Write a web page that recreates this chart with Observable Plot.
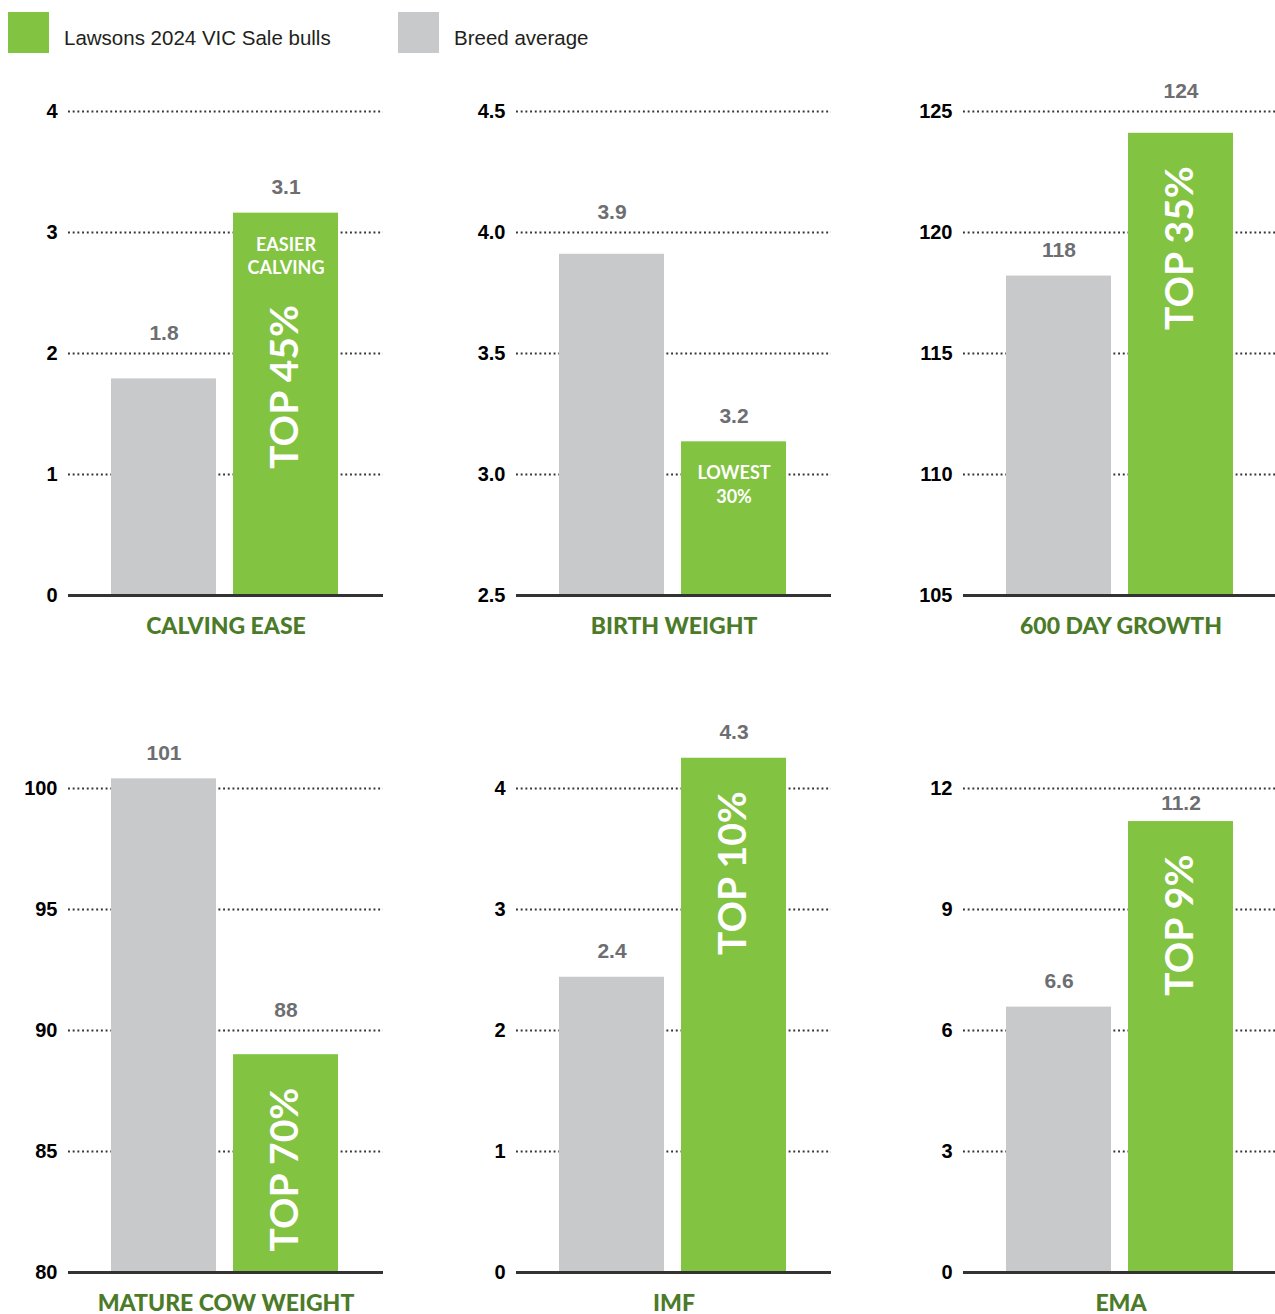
<!DOCTYPE html>
<html>
<head>
<meta charset="utf-8">
<script src="https://cdn.jsdelivr.net/npm/d3@7"></script>
<script src="https://cdn.jsdelivr.net/npm/@observablehq/plot@0.6"></script>
<style>
  html, body { margin: 0; padding: 0; background: #fff; }
  body { width: 1275px; height: 1314px; overflow: hidden; position: relative; }
  .legend-item { position: absolute; top: 12px; display: flex; align-items: center;
    font-family: "Liberation Sans", Arial, sans-serif; font-size: 20.5px; color: #231f20; white-space: nowrap; }
  .legend-item span { position: relative; top: 5px; }
  .swatch { width: 41px; height: 41px; margin-right: 15px; }
  .panel { position: absolute; width: 400px; }
  .panel svg { overflow: visible; max-width: none !important; }
</style>
</head>
<body>
<div id="legend"></div>
<div id="charts"></div>
<script>
// ---- data ----
const traits = ["CALVING EASE", "BIRTH WEIGHT", "600 DAY GROWTH", "MATURE COW WEIGHT", "IMF", "EMA"];
const seriesNames = ["Breed average", "Lawsons 2024 VIC Sale bulls"];
const breedAverage = [1.79, 3.91, 118.2, 100.4, 2.44, 6.58];
const lawsons = [3.16, 3.135, 124.1, 89.0, 4.25, 11.18];
const breedLabels = ["1.8", "3.9", "118", "101", "2.4", "6.6"];
const lawsonsLabels = ["3.1", "3.2", "124", "88", "4.3", "11.2"];
const yDomains = [[0, 4], [2.5, 4.5], [105, 125], [80, 100], [0, 4], [0, 12]];
const yTicks = [[0, 1, 2, 3, 4], [2.5, 3, 3.5, 4, 4.5], [105, 110, 115, 120, 125], [80, 85, 90, 95, 100], [0, 1, 2, 3, 4], [0, 3, 6, 9, 12]];
const yTickLabels = [["0", "1", "2", "3", "4"], ["2.5", "3.0", "3.5", "4.0", "4.5"], ["105", "110", "115", "120", "125"], ["80", "85", "90", "95", "100"], ["0", "1", "2", "3", "4"], ["0", "3", "6", "9", "12"]];
const rotatedNotes = ["TOP 45%", "", "TOP 35%", "TOP 70%", "TOP 10%", "TOP 9%"];
const flatNotes = ["EASIER\nCALVING", "LOWEST\n30%", "", "", "", ""];

// ---- style ----
const GREEN = "#82c341";
const GREY = "#c8c9cb";
const LABEL_GREY = "#6d6e71";
const TITLE_GREEN = "#4b7b29";
const SANS = "'Liberation Sans', Arial, Helvetica, sans-serif";
const colLeft = [0, 448, 895];
const rowTop = [60, 737];
const M = {top: 51, bottom: 50, left: 68, right: 0};
const H = 585;
const innerH = H - M.top - M.bottom;

// legend
const legend = d3.select("#legend");
[[seriesNames[1], GREEN, 8], [seriesNames[0], GREY, 398]].forEach(([name, color, left]) => {
  const item = legend.append("div").attr("class", "legend-item").style("left", left + "px");
  item.append("div").attr("class", "swatch").style("background", color);
  item.append("span").text(name);
});

// value label placement: 26px above bar, moved clear of a dotted gridline it would sit on
function labelY(value, domain, ticks) {
  const ppu = innerH / (domain[1] - domain[0]);
  let v = value + 26 / ppu;
  for (const t of ticks.slice(1)) {
    const diff = (v - t) * ppu;
    if (Math.abs(diff) < 9) v = diff >= 0 ? t + 20 / ppu : t - 15 / ppu;
  }
  return v;
}

const charts = d3.select("#charts");
traits.forEach((trait, i) => {
  const rows = [
    {series: seriesNames[0], value: breedAverage[i], label: breedLabels[i], rot: "", flat: ""},
    {series: seriesNames[1], value: lawsons[i], label: lawsonsLabels[i], rot: rotatedNotes[i], flat: flatNotes[i]}
  ];
  rows.forEach(r => r.ly = labelY(r.value, yDomains[i], yTicks[i]));
  const [y0] = yDomains[i];
  const tickLabel = new Map(yTicks[i].map((t, k) => [t, yTickLabels[i][k]]));
  const rotOffset = flatNotes[i] ? 92 : 33;

  const plot = Plot.plot({
    width: 383,
    height: H,
    marginTop: M.top,
    marginBottom: M.bottom,
    marginLeft: M.left,
    marginRight: M.right,
    style: {fontFamily: SANS, overflow: "visible", background: "transparent"},
    x: {type: "band", domain: seriesNames, paddingInner: 0.14, paddingOuter: 0.36, align: 0.49, axis: null},
    y: {domain: yDomains[i], nice: false, axis: null},
    color: {domain: seriesNames, range: [GREY, GREEN]},
    marks: [
      Plot.ruleY(yTicks[i].slice(1), {stroke: "#333", strokeWidth: 2, strokeDasharray: "1.9,2.8"}),
      Plot.axisY({ticks: yTicks[i], tickFormat: d => tickLabel.get(d), tickSize: 0, tickPadding: 11,
        fontSize: 20, fontWeight: "bold", fill: "#000", fontFamily: SANS, label: null}),
      Plot.barY(rows, {x: "series", y1: () => y0, y2: "value", fill: "series"}),
      Plot.ruleY([y0], {stroke: "#333", strokeWidth: 3}),
      Plot.text(rows, {x: "series", y: "ly", text: "label", fill: LABEL_GREY,
        fontSize: 21, fontWeight: "bold", fontFamily: SANS}),
      Plot.text(rows.filter(d => d.rot), {x: "series", y: "value", text: "rot", rotate: -90, textAnchor: "end",
        dy: rotOffset, fill: "#fff", fontSize: 39, fontWeight: "bold", fontFamily: "Lato, sans-serif"}),
      Plot.text(rows.filter(d => d.flat), {x: "series", y: "value", text: "flat", lineAnchor: "top",
        dy: 21, fill: "#fff", fontSize: 18, fontWeight: "bold", lineHeight: 1.3, fontFamily: "Lato, sans-serif"}),
      Plot.text([trait], {frameAnchor: "bottom", lineAnchor: "middle", dy: 31, fill: TITLE_GREEN,
        fontSize: 23, fontWeight: 900, fontFamily: "Lato, sans-serif"})
    ]
  });
  const svg = d3.select(plot);
  svg.selectAll("text").filter(function() { return d3.select(this).attr("fill") === TITLE_GREEN; })
    .style("letter-spacing", "2px");
  svg.selectAll("text").filter(function() { return d3.select(this).attr("font-size") === "18"; })
    .style("letter-spacing", "1px");
  charts.append("div").attr("class", "panel")
    .style("left", colLeft[i % 3] + "px")
    .style("top", rowTop[Math.floor(i / 3)] + "px")
    .node().appendChild(plot);
});
</script>
</body>
</html>
